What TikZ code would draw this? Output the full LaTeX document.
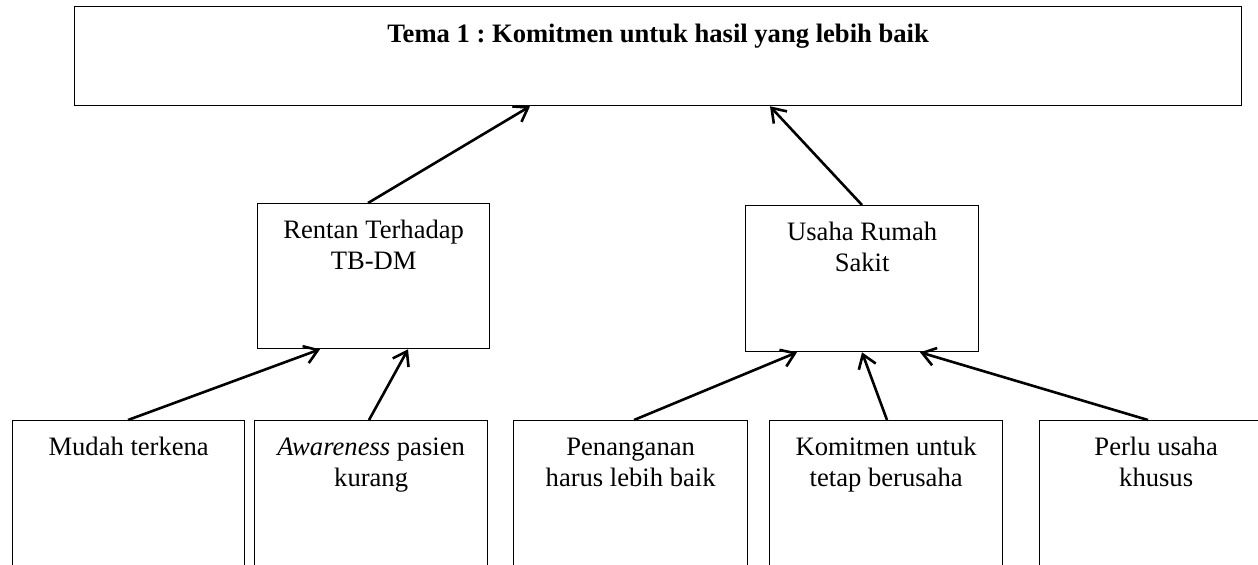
\documentclass[tikz,border=0pt]{standalone}
\usepackage{fontspec}
\setmainfont{Liberation Serif}
\usetikzlibrary{arrows.meta}
\frenchspacing
\begin{document}
\begin{tikzpicture}[x=0.5pt,y=-0.5pt,
  box/.style={draw, line width=0.65pt, inner sep=0pt, anchor=north west},
  txt/.style={font=\fontsize{13.3}{15.3}\selectfont, align=center, inner sep=0pt, anchor=north},
  arr/.style={line width=1.3pt, -{Straight Barb[length=6.5pt,width=9pt]}}]
\useasboundingbox (0,0) rectangle (1258,564);
\clip (0,0) rectangle (1258,564);
% boxes
\node[box, minimum width=583.5pt, minimum height=49.5pt] (tema) at (74,6) {};
\node[box, minimum width=116pt, minimum height=72.5pt] (rentan) at (257,203) {};
\node[box, minimum width=116.5pt, minimum height=73pt] (usaha) at (745,205) {};
\node[box, minimum width=116pt, minimum height=90pt] (mudah) at (12,420) {};
\node[box, minimum width=116.5pt, minimum height=90pt] (aware) at (254,420) {};
\node[box, minimum width=117pt, minimum height=90pt] (penang) at (513,420) {};
\node[box, minimum width=116.5pt, minimum height=90pt] (komit) at (769,420) {};
\node[box, minimum width=116.5pt, minimum height=90pt] (perlu) at (1039,420) {};
% texts
\node[txt, font=\fontsize{13.3}{15.3}\selectfont\bfseries] (temat) at ([yshift=-7.5pt]tema.north) {\strut Tema 1 : Komitmen untuk hasil yang lebih baik};
\node[txt] (rentant) at ([yshift=-6.8pt]rentan.north) {\strut Rentan Terhadap\\TB-DM};
\node[txt] (usahat) at ([yshift=-6.8pt]usaha.north) {\strut Usaha Rumah\\Sakit};
\node[txt] (mudaht) at ([yshift=-6.8pt]mudah.north) {\strut Mudah terkena};
\node[txt] (awaret) at ([yshift=-6.8pt]aware.north) {\strut \textit{Awareness} pasien\\kurang};
\node[txt] (penangt) at ([yshift=-6.8pt]penang.north) {\strut Penanganan\\harus lebih baik};
\node[txt] (komitt) at ([yshift=-6.8pt]komit.north) {\strut Komitmen untuk\\tetap berusaha};
\node[txt] (perlut) at ([yshift=-6.8pt]perlu.north) {\strut Perlu usaha\\khusus};
% connectors
\draw[arr] ([xshift=55.5pt]rentan.north west) -- ([xshift=228pt]tema.south west);
\draw[arr] ([xshift=58.5pt]usaha.north west) -- ([xshift=348pt]tema.south west);
\draw[arr] ([xshift=58pt]mudah.north west) -- ([xshift=31.5pt]rentan.south west);
\draw[arr] ([xshift=57.5pt]aware.north west) -- ([xshift=75.5pt]rentan.south west);
\draw[arr] ([xshift=60.5pt]penang.north west) -- ([xshift=26pt]usaha.south west);
\draw[arr] ([xshift=59pt]komit.north west) -- ([xshift=58.5pt]usaha.south west);
\draw[arr] ([xshift=54.5pt]perlu.north west) -- ([xshift=87.5pt]usaha.south west);
\end{tikzpicture}
\end{document}
